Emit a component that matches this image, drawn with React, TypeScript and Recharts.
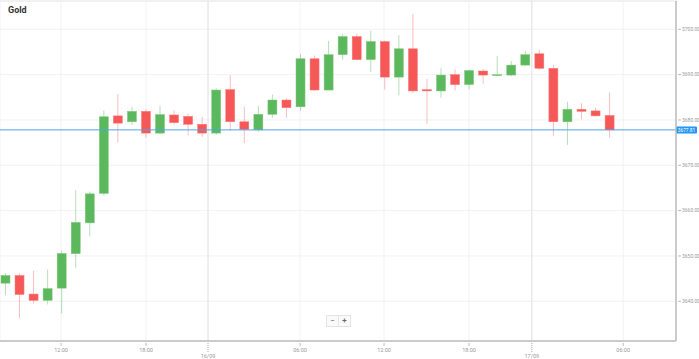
import React from 'react';
import { ComposedChart, Bar, XAxis, YAxis, CartesianGrid, ReferenceLine } from 'recharts';

// Hourly candles (index 0..43)
const candleIndex = [0, 1, 2, 3, 4, 5, 6, 7, 8, 9, 10, 11, 12, 13, 14, 15, 16, 17, 18, 19, 20, 21, 22, 23, 24, 25, 26, 27, 28, 29, 30, 31, 32, 33, 34, 35, 36, 37, 38, 39, 40, 41, 42, 43];
const opens = [3644.0, 3645.7, 3641.6, 3640.2, 3642.9, 3650.5, 3657.3, 3663.8, 3680.9, 3679.6, 3681.9, 3677.1, 3681.1, 3680.8, 3679.05, 3677.1, 3686.7, 3679.6, 3677.8, 3681.25, 3684.4, 3682.9, 3693.5, 3686.6, 3694.4, 3698.4, 3693.3, 3697.3, 3689.45, 3695.7, 3686.7, 3686.4, 3690.0, 3687.8, 3690.8, 3689.9, 3689.9, 3692.1, 3694.6, 3691.4, 3679.6, 3682.35, 3682.0, 3681.0];
const highs = [3646.2, 3646.2, 3646.7, 3647.0, 3651.2, 3664.5, 3664.2, 3682.1, 3685.7, 3682.9, 3682.4, 3683.1, 3682.1, 3681.4, 3680.7, 3687.0, 3689.9, 3682.9, 3683.1, 3685.6, 3684.8, 3694.6, 3694.2, 3697.4, 3699.05, 3699.0, 3699.7, 3697.5, 3698.7, 3703.4, 3689.1, 3691.5, 3691.2, 3691.1, 3691.3, 3694.1, 3693.0, 3695.3, 3695.5, 3692.1, 3684.0, 3683.7, 3682.7, 3686.1];
const lows = [3641.3, 3636.3, 3639.5, 3639.3, 3637.3, 3647.3, 3654.3, 3663.3, 3675.0, 3678.9, 3676.1, 3676.9, 3679.05, 3676.6, 3676.3, 3676.7, 3677.6, 3674.9, 3677.4, 3680.5, 3680.5, 3682.0, 3686.5, 3686.5, 3693.3, 3693.2, 3690.6, 3686.7, 3685.4, 3686.0, 3679.2, 3684.9, 3686.5, 3686.7, 3688.0, 3689.8, 3689.7, 3692.0, 3691.1, 3676.5, 3674.5, 3680.15, 3680.7, 3676.1];
const closes = [3645.7, 3641.5, 3640.2, 3642.8, 3650.55, 3657.4, 3663.7, 3680.7, 3679.3, 3681.9, 3677.1, 3681.2, 3679.4, 3679.05, 3677.1, 3686.6, 3679.6, 3677.9, 3681.25, 3684.4, 3682.7, 3693.5, 3686.6, 3694.4, 3698.4, 3693.3, 3697.3, 3689.45, 3695.7, 3686.4, 3686.4, 3689.9, 3687.8, 3690.9, 3689.9, 3690.0, 3692.1, 3694.4, 3691.4, 3679.6, 3682.35, 3681.9, 3680.9, 3677.8];

const xTickPositions = [3.99, 10.04, 14.45, 21.0, 26.98, 33.03, 37.5, 44.0];
const xTickLabels = ['12:00', '18:00', '16/09', '06:00', '12:00', '18:00', '17/09', '06:00'];
const dateTickPositions = [14.45, 37.5];
const yTicks = [3640, 3650, 3660, 3670, 3680, 3690, 3700];
const currentPrice = 3677.81;
const xDomain = [-0.356, 47.76];
const yDomain = [3631.24, 3706.24];

const data = candleIndex.map((i, k) => ({
  i,
  open: opens[k],
  high: highs[k],
  low: lows[k],
  close: closes[k],
  range: [lows[k], highs[k]],
}));

const GREEN = '#5cb85c';
const RED = '#f65858';

const Candle = (props: any) => {
  const { x, y, width, height, payload } = props;
  if (!payload) return null;
  const { open, close, high, low } = payload;
  const top = Math.min(y, y + height);
  const h = Math.abs(height);
  const pix = (v: number) => (high === low ? top : top + ((high - v) / (high - low)) * h);
  const cx = x + width / 2;
  const up = close >= open;
  const color = up ? GREEN : RED;
  const wick = up ? 'rgba(92,184,92,0.45)' : 'rgba(246,88,88,0.4)';
  const bTop = pix(Math.max(open, close));
  const bBot = pix(Math.min(open, close));
  const bh = Math.max(bBot - bTop, 1);
  return (
    <g>
      <line x1={cx} x2={cx} y1={top} y2={top + h} stroke={wick} strokeWidth={1} />
      <rect x={cx - 4.5} y={bTop} width={9} height={bh} fill={color} stroke={up ? '#7cc77c' : '#f87b7b'} strokeWidth={0.5} />
    </g>
  );
};

const XTick = (props: any) => {
  const { x, y, payload } = props;
  const idx = xTickPositions.indexOf(payload.value);
  const label = idx >= 0 ? xTickLabels[idx] : '';
  const isDate = dateTickPositions.includes(payload.value);
  return (
    <g>
      {isDate ? (
        <line x1={x} x2={x} y1={y} y2={y + 9} stroke="#aaa" strokeWidth={1} strokeDasharray="1 1" />
      ) : (
        <line x1={x} x2={x} y1={y} y2={y + 3} stroke="#bbb" strokeWidth={1} />
      )}
      <text x={x} y={isDate ? y + 15 : y + 9} textAnchor="middle" fontSize={5.5} fill="#999" fontFamily="Roboto, sans-serif">
        {label}
      </text>
    </g>
  );
};

const YTick = (props: any) => {
  const { x, y, payload } = props;
  return (
    <g>
      <line x1={x} x2={x + 3} y1={y} y2={y} stroke="#bbb" strokeWidth={1} />
      <text x={x + 4} y={y + 1.8} textAnchor="start" fontSize={5} fill="#999" fontFamily="Roboto, sans-serif">
        {payload.value.toFixed(2)}
      </text>
    </g>
  );
};

const PriceLabel = (props: any) => {
  const vb = props.viewBox || {};
  const x = vb.x + vb.width;
  const y = vb.y;
  return (
    <g>
      <rect x={x} y={y - 3.5} width={21} height={7} rx={1} fill="#2196f3" />
      <text x={x + 10.5} y={y + 1.8} textAnchor="middle" fontSize={4.8} fill="#fff" fontFamily="Roboto, sans-serif">
        {currentPrice.toFixed(2)}
      </text>
    </g>
  );
};

export default function App() {
  return (
    <div style={{ position: 'absolute', left: 0, top: 0, width: 699, height: 359, background: '#fff' }}>
      <ComposedChart width={699} height={359} data={data} margin={{ top: 1, right: 0, bottom: 0, left: 0 }}>
        <CartesianGrid stroke="#f2f2f2" strokeWidth={1} />
        <XAxis
          dataKey="i"
          type="number"
          domain={xDomain}
          ticks={xTickPositions}
          allowDataOverflow
          height={18}
          tickSize={0}
          tickLine={false}
          axisLine={{ stroke: '#bbb', strokeWidth: 1.5 }}
          tick={<XTick />}
          interval={0}
        />
        <YAxis
          orientation="right"
          type="number"
          domain={yDomain}
          ticks={yTicks}
          allowDataOverflow
          width={23}
          tickSize={0}
          tickLine={false}
          axisLine={{ stroke: '#bbb', strokeWidth: 1.5 }}
          tick={<YTick />}
          interval={0}
        />
        <ReferenceLine y={yDomain[1]} stroke="#e8e8e8" />
        {dateTickPositions.map((p) => (
          <ReferenceLine key={p} x={p} stroke="#e4e4e4" />
        ))}
        <Bar dataKey="range" barSize={9} shape={<Candle />} isAnimationActive={false} />
        <ReferenceLine y={currentPrice} stroke="#4ea6ea" strokeWidth={1} label={<PriceLabel />} />
      </ComposedChart>
      <div style={{ position: 'absolute', left: 8, top: 5, fontFamily: 'Roboto, sans-serif', fontWeight: 700, fontSize: 9, color: '#333' }}>
        Gold
      </div>
      <div style={{ position: 'absolute', left: 326, top: 315, display: 'flex', fontFamily: 'Roboto, sans-serif' }}>
        <div style={{ width: 11, height: 10, border: '1px solid #e4e4e4', background: '#fafafa', fontSize: 8, lineHeight: '10px', textAlign: 'center', color: '#666' }}>−</div>
        <div style={{ width: 11, height: 10, border: '1px solid #e4e4e4', borderLeft: 'none', background: '#fafafa', fontSize: 8, lineHeight: '10px', textAlign: 'center', color: '#666', fontWeight: 700 }}>+</div>
      </div>
    </div>
  );
}
